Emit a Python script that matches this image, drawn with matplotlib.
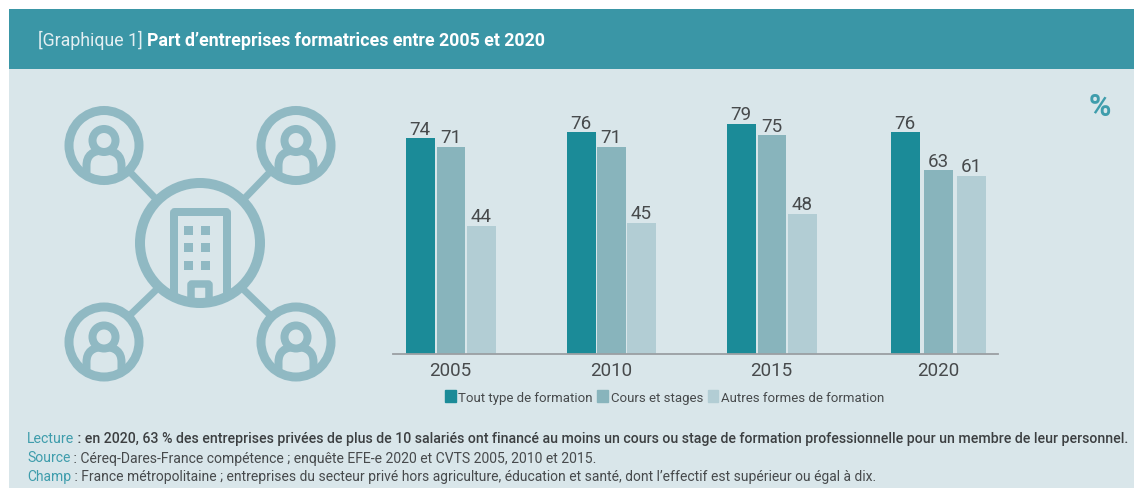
# -*- coding: utf-8 -*-
import matplotlib
matplotlib.use("Agg")
import matplotlib.pyplot as plt
from matplotlib.patches import Circle, Rectangle, FancyBboxPatch, Patch, PathPatch
from matplotlib.path import Path

years = ["2005", "2010", "2015", "2020"]
series_names = ["Tout type de formation", "Cours et stages", "Autres formes de formation"]
tout_type = [74, 76, 79, 76]
cours_stages = [71, 71, 75, 63]
autres = [44, 45, 48, 61]

BG = "#d9e6ea"
HEAD = "#3a96a6"
TEAL = "#3f9dac"
ICON = "#90b9c3"
TXT = "#474a4c"
colors = ["#1b8b98", "#88b4bc", "#b2cdd4"]

W, H = 1134, 489
plt.rcParams["font.family"] = ["Roboto", "DejaVu Sans"]

fig = plt.figure(figsize=(W / 100, H / 100), dpi=100, facecolor="white")

# pixel axes for the panel, the icon and the texts
bg = fig.add_axes([0, 0, 1, 1])
bg.set_xlim(0, W)
bg.set_ylim(H, 0)
bg.axis("off")
bg.add_patch(Rectangle((9, 10), W - 9, H - 10, fc=BG, ec="none"))
bg.add_patch(Rectangle((9, 10), W - 9, 60, fc=HEAD, ec="none"))


def px(v):
    return v * 0.72


def person(cx, cy):
    clip = Circle((cx, cy), 36, transform=bg.transData)
    ring = Circle((cx, cy), 35, fc="none", ec=ICON, lw=px(9))
    bg.add_patch(ring)
    body = Path([(cx - 17.5, cy + 34), (cx - 17.5, cy + 20), (cx - 17.5, cy + 5), (cx, cy + 5),
                 (cx + 17.5, cy + 5), (cx + 17.5, cy + 20), (cx + 17.5, cy + 34)],
                [Path.MOVETO, Path.LINETO, Path.CURVE3, Path.CURVE3, Path.CURVE3, Path.CURVE3, Path.LINETO])
    b = PathPatch(body, fc="none", ec=ICON, lw=px(8))
    bg.add_patch(b)
    b.set_clip_path(clip)
    bg.add_patch(Circle((cx, cy - 5), 11.5, fc=BG, ec=ICON, lw=px(8)))


for cx, cy in [(104, 146.5), (296, 146.5), (104, 343), (296, 343)]:
    person(cx, cy)

for x0, y0, x1, y1 in [(129, 172, 156, 200), (271, 172, 244, 200), (129, 317, 156, 291), (271, 317, 244, 291)]:
    bg.plot([x0, x1], [y0, y1], color=ICON, lw=px(7), solid_capstyle="butt")

hub = Circle((200, 244), 60, fc="none", ec=ICON, lw=px(10))
bg.add_patch(hub)
hub_clip = Circle((200, 244), 62, transform=bg.transData)
tower = FancyBboxPatch((174, 213), 53, 100, boxstyle="round,pad=0,rounding_size=1", fc="none", ec=ICON, lw=px(8))
bg.add_patch(tower)
tower.set_clip_path(hub_clip)
for wx in (184, 201):
    for wy in (227, 244, 262):
        bg.add_patch(Rectangle((wx, wy), 9, 9, fc=ICON, ec="none"))
door = FancyBboxPatch((191, 285), 18, 30, boxstyle="round,pad=0,rounding_size=1", fc="none", ec=ICON, lw=px(7.5))
bg.add_patch(door)
door.set_clip_path(hub_clip)


def runs(x, y, parts, size):
    # texts of several colours on one line, each placed after the previous one
    r = fig.canvas.get_renderer()
    for s, col, weight in parts:
        t = bg.text(x, y, s, color=col, fontsize=size, fontweight=weight, va="baseline", ha="left")
        x = t.get_window_extent(r).x1
    return x


runs(38, 46, [("[Graphique 1] ", "#e3eff2", "normal"),
              ("Part d\u2019entreprises formatrices entre 2005 et 2020", "white", "bold")], 12.75)
bg.text(1100, 107, "%", color=TEAL, fontsize=22, fontweight="bold", ha="center", va="center")

runs(27, 443, [("Lecture", TEAL, "normal"),
               (" : en 2020, 63 % des entreprises priv\u00e9es de plus de 10 salari\u00e9s ont financ\u00e9 au moins un cours ou stage de formation professionnelle pour un membre de leur personnel.", "#3c3f41", "medium")], 10.15)
runs(27, 462.5, [("Source", TEAL, "normal"),
                 (" : C\u00e9req-Dares-France comp\u00e9tence ; enqu\u00eate EFE-e 2020 et CVTS 2005, 2010 et 2015.", TXT, "normal")], 10.1)
runs(27, 481.5, [("Champ", TEAL, "normal"),
                 (" : France m\u00e9tropolitaine ; entreprises du secteur priv\u00e9 hors agriculture, \u00e9ducation et sant\u00e9, dont l\u2019effectif est sup\u00e9rieur ou \u00e9gal \u00e0 dix.", TXT, "normal")], 9.96)

# chart, x axis in figure pixels because the groups are unevenly spaced
x_left, x_right, y_base, y_top = 393, 998, 355, 106
ax = fig.add_axes([x_left / W, 1 - y_base / H, (x_right - x_left) / W, (y_base - y_top) / H])
ax.patch.set_alpha(0)
ax.set_xlim(x_left, x_right)
ax.set_ylim(0, (y_base - y_top) / 2.915)

group_left = [406, 567, 727, 891]
group_step = [30.5, 30, 30.5, 33]
bar_w = 28.5
tick_pos = [450, 611, 771.5, 938]

for i, (vals, name) in enumerate(zip([tout_type, cours_stages, autres], series_names)):
    xs = [g + i * s for g, s in zip(group_left, group_step)]
    bars = ax.bar(xs, vals, width=bar_w, align="edge", color=colors[i], label=name)
    ax.bar_label(bars, padding=0.5, fontsize=13.5, color=TXT)

ax.set_xticks(tick_pos)
ax.set_xticklabels(years, fontsize=13.5, color=TXT)
ax.tick_params(axis="x", length=0, pad=5)
ax.set_yticks([])
for s in ["top", "left", "right"]:
    ax.spines[s].set_visible(False)
ax.spines["bottom"].set_color("#9a9fa3")
ax.spines["bottom"].set_linewidth(1.3)

handles = [Patch(color=c, label=n) for c, n in zip(colors, series_names)]
fig.legend(handles=handles, loc="center", bbox_to_anchor=(664.5 / W, 1 - 398 / H), ncol=3, frameon=False,
           fontsize=9.55, labelcolor=TXT, handlelength=0.8, handleheight=1.0, handletextpad=0.2, columnspacing=0.35,
           borderpad=0, borderaxespad=0)

fig.savefig("out.png", dpi=100, facecolor="white")
